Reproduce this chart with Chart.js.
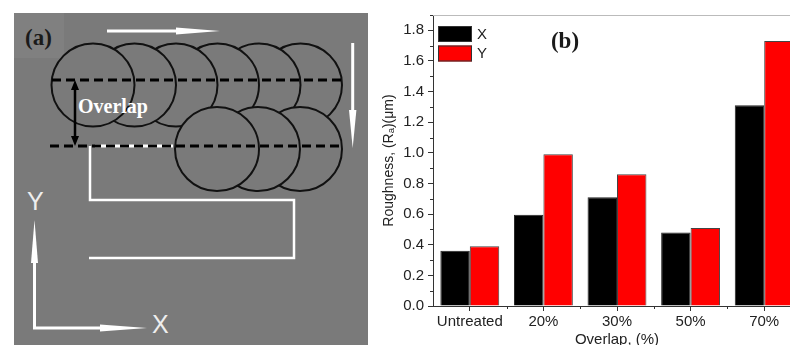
<!DOCTYPE html>
<html>
<head>
<meta charset="utf-8">
<script src="https://cdn.jsdelivr.net/npm/chart.js@4/dist/chart.umd.min.js"></script>
<style>
  html, body { margin: 0; padding: 0; background: #fff; overflow: hidden; }
  body { width: 790px; height: 345px; position: relative; }
  #panelA { position: absolute; left: 0; top: 0; }
  #wrap { position: absolute; left: 381px; top: 0; width: 420px; height: 352px; }
</style>
</head>
<body>
<svg id="panelA" width="380" height="345" xmlns="http://www.w3.org/2000/svg">
  <rect x="14" y="13" width="354" height="332" fill="#7a7a7a"/>
  <rect x="14" y="13" width="50" height="45" fill="#808080"/>
  <text x="25" y="45" font-family="Liberation Serif" font-weight="bold" font-size="23" fill="#1a1a1a">(a)</text>
  <!-- scan direction arrows -->
  <line x1="107" y1="31" x2="180" y2="31" stroke="#fff" stroke-width="3"/>
  <polygon points="176,27.5 220,31 176,34.5" fill="#fff"/>
  <line x1="352.7" y1="43" x2="352.7" y2="112" stroke="#fff" stroke-width="3"/>
  <polygon points="349,110 356.4,110 352.7,148" fill="#fff"/>
  <!-- spots: drawn right to left so the left one sits on top -->
  <g fill="#7a7a7a" stroke="#111" stroke-width="2">
    <circle cx="300.5" cy="85" r="41.5"/>
    <circle cx="259" cy="85" r="41.5"/>
    <circle cx="217.5" cy="85" r="41.5"/>
    <circle cx="176" cy="85" r="41.5"/>
    <circle cx="134.5" cy="85" r="41.5"/>
    <circle cx="93" cy="85" r="41.5"/>
    <circle cx="300" cy="149" r="42"/>
    <circle cx="258" cy="149" r="42"/>
    <circle cx="217" cy="149" r="42"/>
  </g>
  <line x1="95" y1="146" x2="173" y2="146" stroke="#fff" stroke-width="3"/>
  <line x1="52" y1="80" x2="341" y2="80" stroke="#000" stroke-width="3" stroke-dasharray="9 5"/>
  <line x1="50" y1="146" x2="341" y2="146" stroke="#000" stroke-width="3" stroke-dasharray="9 5"/>
  <!-- overlap marker -->
  <line x1="75" y1="88" x2="75" y2="138" stroke="#000" stroke-width="2.5"/>
  <polygon points="71,90 79,90 75,80" fill="#000"/>
  <polygon points="71,136 79,136 75,146" fill="#000"/>
  <text x="78" y="113" font-family="Liberation Serif" font-weight="bold" font-size="20" fill="#fff">Overlap</text>
  <!-- scan path -->
  <polyline points="90,146 90,200 294,200 294,258 89,258" fill="none" stroke="#fff" stroke-width="2.5"/>
  <!-- axes -->
  <line x1="34.5" y1="329" x2="34.5" y2="258" stroke="#fff" stroke-width="3"/>
  <polygon points="31,263 38,263 34.5,220" fill="#fff"/>
  <line x1="33" y1="328" x2="105" y2="328" stroke="#fff" stroke-width="3"/>
  <polygon points="100,324.5 100,331.5 147,328" fill="#fff"/>
  <text x="27" y="210" font-family="Liberation Sans" font-size="25" fill="#eee">Y</text>
  <text x="152" y="333" font-family="Liberation Sans" font-size="25" fill="#eee">X</text>
</svg>
<div id="wrap"><canvas id="chartB"></canvas></div>
<script>
const categories = ['Untreated', '20%', '30%', '50%', '70%'];
const xValues = [0.36, 0.595, 0.71, 0.48, 1.31];
const yValues = [0.39, 0.99, 0.86, 0.51, 1.73];
const seriesNames = ['X', 'Y'];
const seriesColors = ['#000000', '#ff0000'];

const ctx = document.getElementById('chartB').getContext('2d');

// minor ticks, frame top line, legend and panel label
const extras = {
    id: 'extras',
    afterDraw(chart) {
        const c = chart.ctx;
        const area = chart.chartArea;
        const ys = chart.scales.y;
        const xs = chart.scales.x;
        c.save();
        c.strokeStyle = '#bbb';
        c.lineWidth = 1;
        c.beginPath();
        c.moveTo(area.left, area.top + 0.5);
        c.lineTo(area.right, area.top + 0.5);
        c.stroke();

        c.strokeStyle = '#333';
        c.beginPath();
        for (let v = 0.1; v < 1.9; v += 0.2) {
            const py = Math.round(ys.getPixelForValue(v)) + 0.5;
            c.moveTo(area.left - 3, py);
            c.lineTo(area.left, py);
        }
        for (let i = 0; i < categories.length - 1; i++) {
            const px = Math.round((xs.getPixelForValue(i) + xs.getPixelForValue(i + 1)) / 2) + 0.5;
            c.moveTo(px, area.bottom);
            c.lineTo(px, area.bottom + 3);
        }
        c.stroke();

        // legend
        c.font = '15px "Liberation Sans", Arial, sans-serif';
        c.textBaseline = 'middle';
        chart.data.datasets.forEach((ds, i) => {
            const top = 26 + i * 19.5;
            c.fillStyle = ds.backgroundColor;
            c.fillRect(area.left + 5, top, 34, 16);
            c.strokeStyle = '#333';
            c.strokeRect(area.left + 5.5, top + 0.5, 33, 15);
            c.fillStyle = '#222';
            c.fillText(ds.label, area.left + 44, top + 8.5);
        });

        c.font = 'bold 23px "Liberation Serif", "Times New Roman", serif';
        c.textAlign = 'center';
        c.textBaseline = 'alphabetic';
        c.fillStyle = '#1a1a1a';
        c.fillText('(b)', 565 - 381, 48);
        c.restore();
    }
};

new Chart(ctx, {
    type: 'bar',
    data: {
        labels: categories,
        datasets: [
            { label: seriesNames[0], data: xValues, backgroundColor: seriesColors[0], borderColor: '#222', borderWidth: 1 },
            { label: seriesNames[1], data: yValues, backgroundColor: seriesColors[1], borderColor: '#444', borderWidth: 1 }
        ]
    },
    options: {
        responsive: true,
        maintainAspectRatio: false,
        animation: false,
        layout: { padding: { top: 15, left: 0, right: 0, bottom: 0 } },
        plugins: { legend: { display: false }, tooltip: { enabled: false } },
        datasets: { bar: { categoryPercentage: 0.8, barPercentage: 1.0 } },
        scales: {
            x: {
                grid: { display: true, drawOnChartArea: false, drawTicks: true, tickLength: 5, offset: false, color: '#333' },
                border: { display: true, color: '#333', width: 1 },
                ticks: { color: '#222', padding: 2, font: { family: '"Liberation Sans", Arial, sans-serif', size: 15 }, maxRotation: 0 },
                title: { display: true, text: 'Overlap, (%)', color: '#222', padding: { top: 0, bottom: 3 }, font: { family: '"Liberation Sans", Arial, sans-serif', size: 15 } },
                afterFit(scale) { scale.height = 46; }
            },
            y: {
                min: 0,
                max: 1.9,
                grid: { display: true, drawOnChartArea: false, drawTicks: true, tickLength: 5, color: '#333' },
                border: { display: true, color: '#333', width: 1 },
                ticks: {
                    stepSize: 0.2,
                    includeBounds: false,
                    color: '#222',
                    padding: 4,
                    font: { family: '"Liberation Sans", Arial, sans-serif', size: 15 },
                    callback: v => v.toFixed(1)
                },
                title: { display: true, text: 'Roughness, (R\u2090)(\u03bcm)', color: '#222', padding: { top: 0, bottom: 0 }, font: { family: '"Liberation Sans", Arial, sans-serif', size: 14 } },
                afterFit(scale) { scale.width = 52; }
            }
        }
    },
    plugins: [extras]
});
</script>
</body>
</html>
